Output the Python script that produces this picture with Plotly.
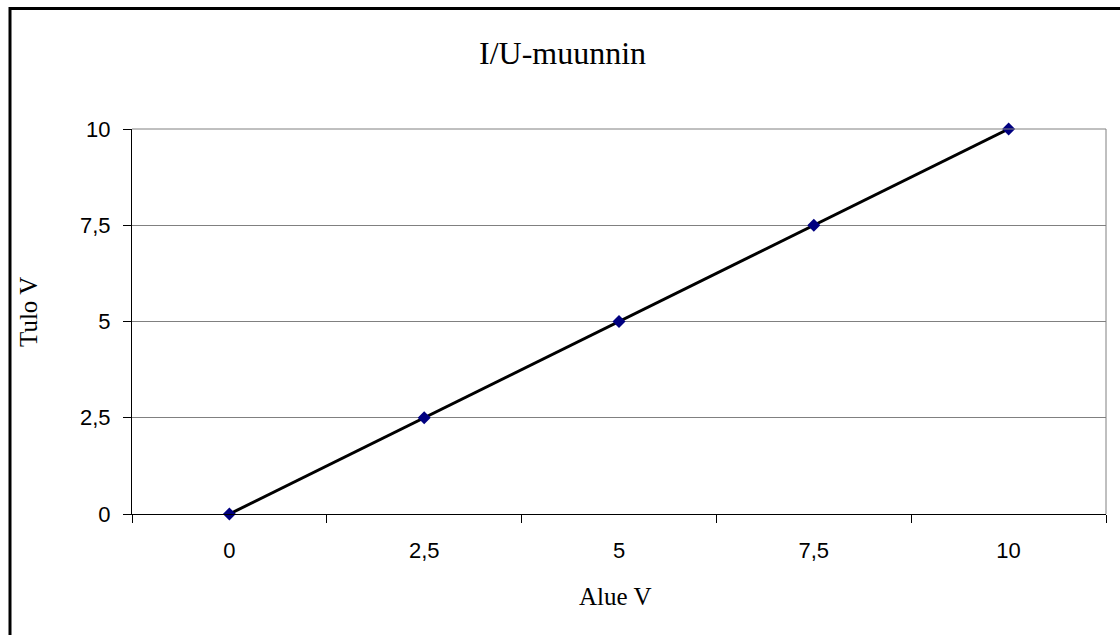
import plotly.graph_objects as go

# Range / output voltage pairs of the I/U converter
alue_v = ["0", "2,5", "5", "7,5", "10"]
tulo_v = [0, 2.5, 5, 7.5, 10]
y_ticks = [0, 2.5, 5, 7.5, 10]
y_tick_text = ["0", "2,5", "5", "7,5", "10"]

W, H = 1120, 635
L, R, T, B = 132, 14, 129, 121
pw, ph = W - L - R, H - T - B


def px_x(x):
    return (x - L) / pw


def px_y(y):
    return (H - B - y) / ph


serif = "Liberation Serif, Times New Roman"

fig = go.Figure()
fig.add_trace(go.Scatter(
    x=alue_v, y=tulo_v, mode="lines+markers",
    line=dict(color="#000000", width=3),
    marker=dict(symbol="diamond", size=10, color="#000080"),
    showlegend=False, cliponaxis=False,
))

fig.update_layout(
    width=W, height=H,
    margin=dict(l=L, r=R, t=T, b=B),
    paper_bgcolor="white", plot_bgcolor="white",
    font=dict(family="Liberation Sans, Arial", size=22, color="#000000"),
    xaxis=dict(
        type="category", tickson="boundaries", range=[-0.5, 4.5],
        ticks="outside", ticklen=8, tickcolor="#000000", tickwidth=1,
        showgrid=False, showline=True, linecolor="#000000", linewidth=1,
        mirror=False, zeroline=False, fixedrange=True,
        tickfont=dict(size=22), ticklabelstandoff=17,
    ),
    yaxis=dict(
        range=[0, 10], tickvals=y_ticks, ticktext=y_tick_text,
        ticks="outside", ticklen=8, tickcolor="#000000", tickwidth=1,
        showgrid=True, gridcolor="#808080", gridwidth=1,
        showline=True, linecolor="#000000", linewidth=1,
        zeroline=False, fixedrange=True, tickfont=dict(size=22),
        ticklabelstandoff=8,
    ),
    shapes=[
        # plot area frame (top and right edges)
        dict(type="line", xref="paper", yref="paper", x0=0, x1=1, y0=1, y1=1,
             line=dict(color="#808080", width=1)),
        dict(type="line", xref="paper", yref="paper", x0=1, x1=1, y0=0, y1=1,
             line=dict(color="#808080", width=1)),
        # chart area border
        dict(type="rect", xref="paper", yref="paper",
             x0=px_x(10), x1=px_x(1130), y0=px_y(8.5), y1=px_y(645),
             line=dict(color="#000000", width=3)),
    ],
    annotations=[
        dict(text="I/U-muunnin", xref="paper", yref="paper",
             x=px_x(562), y=px_y(53), xanchor="center", yanchor="middle",
             showarrow=False, font=dict(family=serif, size=32)),
        dict(text="Alue V", xref="paper", yref="paper",
             x=px_x(615), y=px_y(596), xanchor="center", yanchor="middle",
             showarrow=False, font=dict(family=serif, size=25)),
        dict(text="Tulo V", xref="paper", yref="paper", textangle=-90,
             x=px_x(28), y=px_y(312), xanchor="center", yanchor="middle",
             showarrow=False, font=dict(family=serif, size=25)),
    ],
)

fig.write_html("out.html", config={"displayModeBar": False})
